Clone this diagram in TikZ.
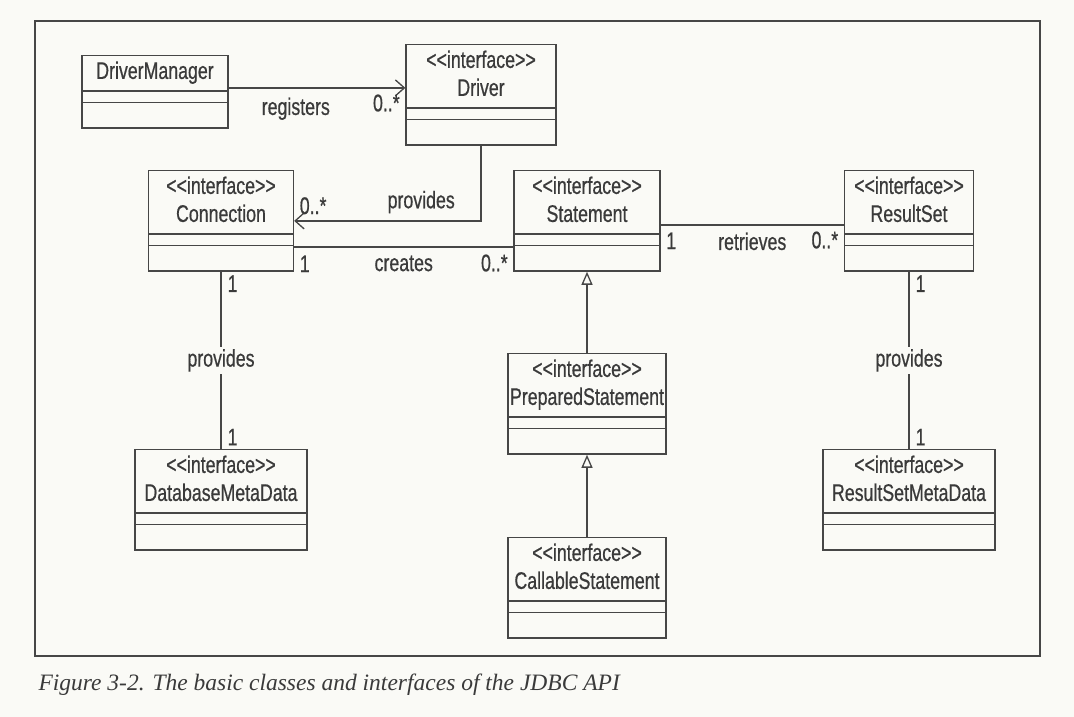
\documentclass[tikz,border=0pt]{standalone}
\usepackage{fontspec}
\setmainfont{Liberation Serif}
\newfontfamily\umlfont[FakeStretch=0.74, FakeBold=0.6]{Liberation Sans}
\usepackage{tikz}
\usetikzlibrary{shapes.multipart, arrows.meta, positioning, calc}
\definecolor{paper}{RGB}{250,250,246}
\definecolor{ink}{RGB}{70,70,70}
\definecolor{txt}{RGB}{58,58,58}
\tikzset{
  umlbox/.style={rectangle split, rectangle split parts=3, draw=ink, line width=1.3pt, align=center, inner xsep=2pt, inner ysep=3pt, rectangle split empty part height=4pt, font=\umlfont\fontsize{24}{28}\selectfont, text=txt, anchor=north},
  assoc/.style={draw=ink, line width=1.3pt},
  arrow/.style={assoc, -{Straight Barb[length=9pt, width=16pt]}},
  inherit/.style={assoc, -{Triangle[open, length=13pt, width=11pt]}},
  lbl/.style={font=\umlfont\fontsize{24}{28}\selectfont, text=txt, inner sep=2pt},
}

\begin{document}
\begin{tikzpicture}[x=1pt, y=-1pt]
\fill[paper] (0,0) rectangle (1074,717);
\draw[ink, line width=1.5pt] (35,21) rectangle (1040,656);

% classes
\node (dm) [umlbox, minimum width=146pt] at (155,55) {\strut DriverManager\strut \nodepart{three}\rule{0pt}{18pt}};
\node (drv) [umlbox, minimum width=150pt] at (481,44) {\strut<<interface>>\\Driver\strut \nodepart{three}\rule{0pt}{18pt}};
\node (con) [umlbox, minimum width=145pt] at (221,170) {\strut<<interface>>\\Connection\strut \nodepart{three}\rule{0pt}{18pt}};
\node (stmt) [umlbox, minimum width=146pt] at (587,170) {\strut<<interface>>\\Statement\strut \nodepart{three}\rule{0pt}{18pt}};
\node (rs) [umlbox, minimum width=129pt] at (909,170) {\strut<<interface>>\\ResultSet\strut \nodepart{three}\rule{0pt}{18pt}};
\node (ps) [umlbox, minimum width=158pt] at (587,353) {\strut<<interface>>\\PreparedStatement\strut \nodepart{three}\rule{0pt}{18pt}};
\node (cs) [umlbox, minimum width=158pt] at (587,537) {\strut<<interface>>\\CallableStatement\strut \nodepart{three}\rule{0pt}{18pt}};
\node (dbmd) [umlbox, minimum width=172pt] at (221,449) {\strut<<interface>>\\DatabaseMetaData\strut \nodepart{three}\rule{0pt}{18pt}};
\node (rsmd) [umlbox, minimum width=172pt] at (909,449) {\strut<<interface>>\\ResultSetMetaData\strut \nodepart{three}\rule{0pt}{18pt}};

% associations
\coordinate (dmr) at ([yshift=4pt]dm.east);
\draw[arrow] (dmr) -- (dmr -| drv.west)
  node (lreg) [lbl, pos=0.38, below=7pt] {registers}
  node (mreg) [lbl, pos=1, below left=4pt and 3pt] {0..*};
\draw[arrow] (drv) |- (con)
  node (lprv) [lbl, pos=0.66, above=5pt] {provides}
  node (mprv) [lbl, pos=1, above right=4pt and 3pt] {0..*};
\coordinate (cre) at ([yshift=-26pt]con.east);
\draw[assoc] (cre) -- (cre -| stmt.west)
  node (mcre1) [lbl, pos=0, below right=6pt and 3pt] {1}
  node (lcre) [lbl, pos=0.5, below=6pt] {creates}
  node (mcre2) [lbl, pos=1, below left=5pt and 3pt] {0..*};
\coordinate (ret) at ([yshift=-4pt]stmt.east);
\draw[assoc] (ret) -- (ret -| rs.west)
  node (mret1) [lbl, pos=0, below right=5pt and 3pt] {1}
  node (lret) [lbl, pos=0.5, below=5pt] {retrieves}
  node (mret2) [lbl, pos=1, below left=4pt and 3pt] {0..*};
\draw[assoc] (con) -- (dbmd)
  node (mdb1) [lbl, pos=0, below right=1pt and 4pt] {1}
  node (ldb) [lbl, pos=0.5, fill=paper] {provides}
  node (mdb2) [lbl, pos=1, above right=1pt and 4pt] {1};
\draw[assoc] (rs) -- (rsmd)
  node (mrs1) [lbl, pos=0, below right=1pt and 4pt] {1}
  node (lrs) [lbl, pos=0.5, fill=paper] {provides}
  node (mrs2) [lbl, pos=1, above right=1pt and 4pt] {1};

% inheritance
\draw[inherit] (ps) -- (stmt);
\draw[inherit] (cs) -- (ps);

\node (cap) [anchor=west, font=\itshape\fontsize{23.5}{28}\selectfont, text=txt] at (35,685) {Figure 3-2. The basic classes and interfaces of the JDBC API};
\end{tikzpicture}
\end{document}
